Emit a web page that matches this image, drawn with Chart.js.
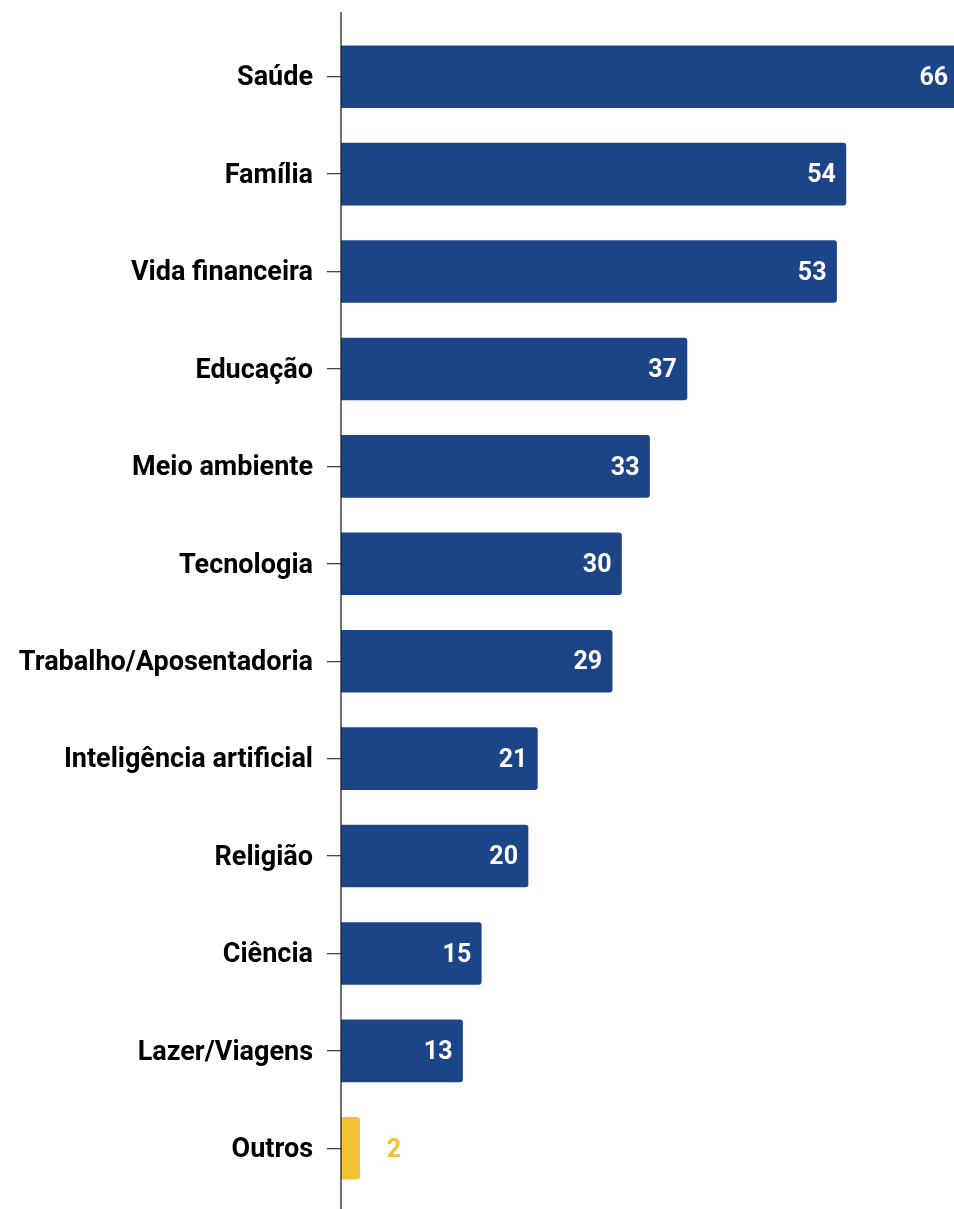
<!DOCTYPE html>
<html>
<head>
<meta charset="utf-8">
<script src="https://cdn.jsdelivr.net/npm/chart.js@4"></script>
<style>
  html, body { margin: 0; padding: 0; background: #ffffff; }
  #wrap { position: relative; width: 954px; height: 1209px; }
</style>
</head>
<body>
<div id="wrap"><canvas id="c" width="954" height="1209"></canvas></div>
<script>
const categories = ["Saúde", "Família", "Vida financeira", "Educação", "Meio ambiente", "Tecnologia",
  "Trabalho/Aposentadoria", "Inteligência artificial", "Religião", "Ciência", "Lazer/Viagens", "Outros"];
const values = [66, 54, 53, 37, 33, 30, 29, 21, 20, 15, 13, 2];
const highlight = [false, false, false, false, false, false, false, false, false, false, false, true];

const BLUE = '#1c4587';
const YELLOW = '#f1c232';

const axisLinePlugin = {
  id: 'axisLine',
  afterDatasetsDraw(chart) {
    const ctx = chart.ctx;
    const x = chart.chartArea.left;
    ctx.save();
    ctx.strokeStyle = '#222222';
    ctx.lineWidth = 1.3;
    ctx.beginPath();
    ctx.moveTo(x, 12);
    ctx.lineTo(x, chart.height);
    ctx.stroke();
    ctx.restore();
  }
};

const valueLabelPlugin = {
  id: 'valueLabels',
  afterDatasetsDraw(chart) {
    const ctx = chart.ctx;
    const meta = chart.getDatasetMeta(0);
    ctx.save();
    ctx.font = 'bold 25px Roboto';
    ctx.textBaseline = 'middle';
    meta.data.forEach((bar, i) => {
      const v = values[i];
      if (highlight[i]) {
        ctx.fillStyle = YELLOW;
        ctx.textAlign = 'left';
        ctx.fillText(String(v), bar.x + 27, bar.y + 2);
      } else {
        ctx.fillStyle = '#ffffff';
        ctx.textAlign = 'right';
        ctx.fillText(String(v), bar.x - 10, bar.y + 2);
      }
    });
    ctx.restore();
  }
};

new Chart(document.getElementById('c'), {
  type: 'bar',
  data: {
    labels: categories,
    datasets: [{
      data: values,
      backgroundColor: highlight.map(h => h ? YELLOW : BLUE),
      borderRadius: 3,
      borderSkipped: 'start',
      barThickness: 62
    }]
  },
  options: {
    indexAxis: 'y',
    responsive: false,
    animation: false,
    devicePixelRatio: 1,
    layout: { padding: { top: 28, bottom: 12, left: 0, right: 0 } },
    plugins: { legend: { display: false }, tooltip: { enabled: false } },
    scales: {
      x: { display: false, min: 0, max: 65.56 },
      y: {
        afterFit(scale) { scale.width = 341; scale.paddingTop = 0; scale.paddingBottom = 0; },
        border: { display: false },
        grid: { offset: false, drawOnChartArea: false, drawTicks: true, tickLength: 14, color: '#444444', lineWidth: 1.3 },
        ticks: { padding: 14, labelOffset: 2, color: '#000000', font: { family: 'Roboto', weight: 'bold', size: 27 } }
      }
    }
  },
  plugins: [axisLinePlugin, valueLabelPlugin]
});
</script>
</body>
</html>
